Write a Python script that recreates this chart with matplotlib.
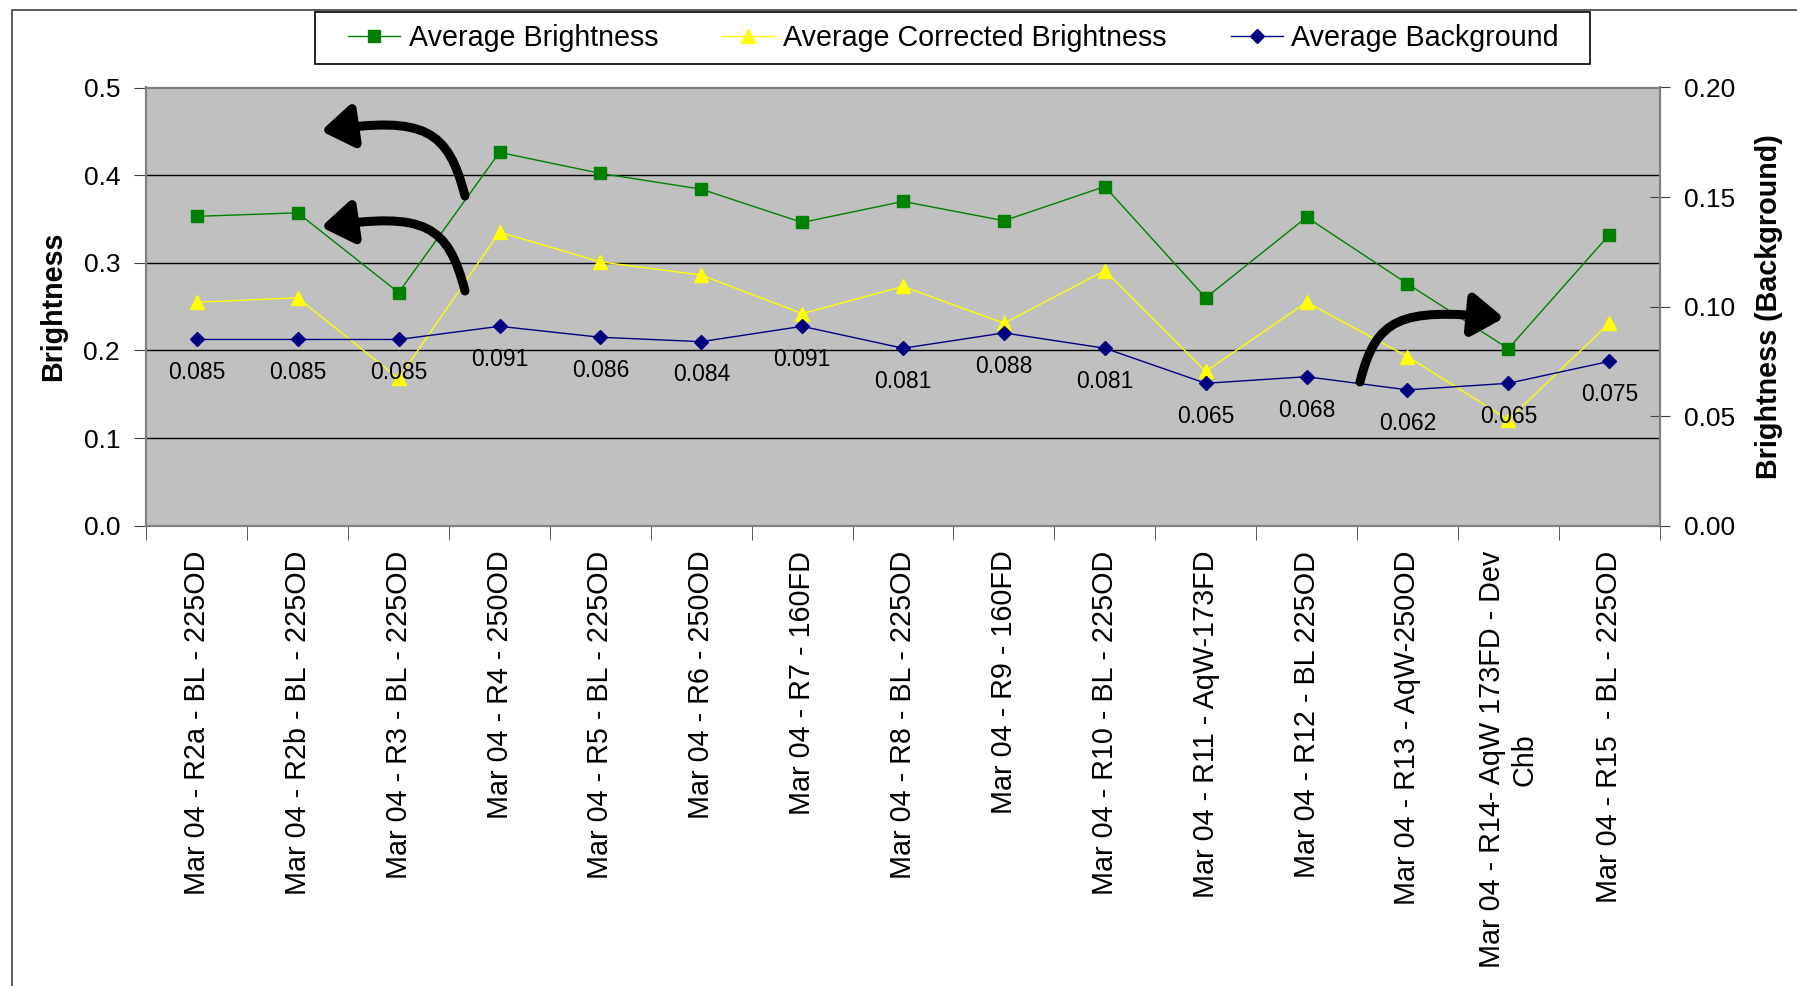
import matplotlib.pyplot as plt
from matplotlib.patches import Rectangle, FancyArrowPatch
from matplotlib.path import Path

plt.rcParams['font.family'] = ['Liberation Sans', 'DejaVu Sans']

categories = [
    'Mar 04 - R2a - BL - 225OD',
    'Mar 04 - R2b - BL - 225OD',
    'Mar 04 - R3 - BL - 225OD',
    'Mar 04 - R4 - 250OD',
    'Mar 04 - R5 - BL - 225OD',
    'Mar 04 - R6 - 250OD',
    'Mar 04 - R7 - 160FD',
    'Mar 04 - R8 - BL - 225OD',
    'Mar 04 - R9 - 160FD',
    'Mar 04 - R10 - BL - 225OD',
    'Mar 04 - R11 - AqW-173FD',
    'Mar 04 - R12 - BL 225OD',
    'Mar 04 - R13 - AqW-250OD',
    'Mar 04 - R14- AqW 173FD - Dev\nChb',
    'Mar 04 - R15  - BL - 225OD',
]
avg_brightness = [0.353, 0.357, 0.266, 0.426, 0.402, 0.384, 0.346, 0.370,
                  0.348, 0.387, 0.260, 0.352, 0.276, 0.202, 0.332]
avg_corrected = [0.255, 0.260, 0.168, 0.335, 0.301, 0.286, 0.242, 0.273,
                 0.231, 0.291, 0.176, 0.255, 0.193, 0.121, 0.231]
avg_background = [0.085, 0.085, 0.085, 0.091, 0.086, 0.084, 0.091, 0.081,
                  0.088, 0.081, 0.065, 0.068, 0.062, 0.065, 0.075]

W, H = 1797, 986
fig = plt.figure(figsize=(W / 100, H / 100), dpi=100)

# outer chart border (cut off at right and bottom)
fig.patches.append(Rectangle((11.5 / W, -0.1), 1.2, 1 - 9.6 / H + 0.1,
                             transform=fig.transFigure, fill=False,
                             edgecolor='#404040', linewidth=1.2))
# legend box
fig.patches.append(Rectangle((315 / W, 1 - 63.6 / H), (1590 - 315) / W, (63.6 - 11.8) / H,
                             transform=fig.transFigure, facecolor='white',
                             edgecolor='black', linewidth=1.2))

ax = fig.add_axes([146.4 / W, 1 - 525.7 / H, (1659.7 - 146.4) / W, (525.7 - 87.5) / H])
ax2 = ax.twinx()

x = list(range(len(categories)))
ax.set_facecolor('#C0C0C0')
for v in [0.1, 0.2, 0.3, 0.4]:
    ax.axhline(v, color='black', linewidth=1, zorder=1)

l1, = ax.plot(x, avg_brightness, color='#008000', marker='s', markersize=8.5,
              linewidth=1, label='Average Brightness', zorder=3)
l2, = ax.plot(x, avg_corrected, color='#FFFF00', marker='^', markersize=10,
              linewidth=1, label='Average Corrected Brightness', zorder=3)
l3, = ax2.plot(x, avg_background, color='#000080', marker='D', markersize=7.5,
               linewidth=1, label='Average Background', zorder=3)

for xi, v in zip(x, avg_background):
    ax2.annotate(f'{v:.3f}', (xi, v), xytext=(0, -24), textcoords='offset points',
                 ha='center', va='center', fontsize=16.5)

ax.set_xlim(-0.5, len(categories) - 0.5)
ax.set_ylim(0, 0.5)
ax2.set_ylim(0, 0.2)
ax.set_yticks([0, 0.1, 0.2, 0.3, 0.4, 0.5])
ax.set_yticklabels([f'{t:.1f}' for t in [0, 0.1, 0.2, 0.3, 0.4, 0.5]])
ax2.set_yticks([0, 0.05, 0.1, 0.15, 0.2])
ax2.set_yticklabels([f'{t:.2f}' for t in [0, 0.05, 0.1, 0.15, 0.2]])

ax.set_xticks(x)
ax.set_xticklabels(categories, rotation=90, va='top', ha='center', fontsize=20.7)
ax.set_xticks([i - 0.5 for i in range(len(categories) + 1)], minor=True)
ax.tick_params(axis='x', which='major', length=0, pad=18)
ax.tick_params(axis='x', which='minor', length=10, color='#404040')
ax.tick_params(axis='y', labelsize=19, length=9, pad=10, color='#404040')
ax2.tick_params(axis='y', labelsize=19, length=14, direction='inout', pad=10.5, color='#404040')

for a in (ax, ax2):
    for s in a.spines.values():
        s.set_color('#808080')
        s.set_linewidth(1.5)

ax.set_ylabel('Brightness', fontsize=20.6, fontweight='bold', labelpad=12)
ax2.set_ylabel('Brightness (Background)', fontsize=20.7, fontweight='bold', labelpad=14)

fig.legend(handles=[l1, l2, l3], loc='center', ncol=3,
           bbox_to_anchor=(953.5 / W, 1 - 37.7 / H), fontsize=20.6,
           frameon=False, handlelength=1.82, handletextpad=0.3,
           columnspacing=2.24, borderpad=0, borderaxespad=0)

# curved arrows: tail, two control points, tip (pixels from top-left)
arrows = [
    [(465, 196), (448, 130), (425, 116), (321, 131)],
    [(465, 291), (448, 225), (425, 212), (321, 227)],
    [(1360, 382), (1376, 318), (1400, 308), (1504, 318)],
]
for pts in arrows:
    verts = [(px, H - py) for px, py in pts]
    path = Path(verts, [Path.MOVETO, Path.CURVE4, Path.CURVE4, Path.CURVE4])
    fig.add_artist(FancyArrowPatch(
        path=path, transform=None,
        arrowstyle='-|>,head_length=1.1,head_width=0.75', mutation_scale=17,
        color='black', linewidth=6.5, zorder=10))

fig.savefig('out.png', dpi=100)
